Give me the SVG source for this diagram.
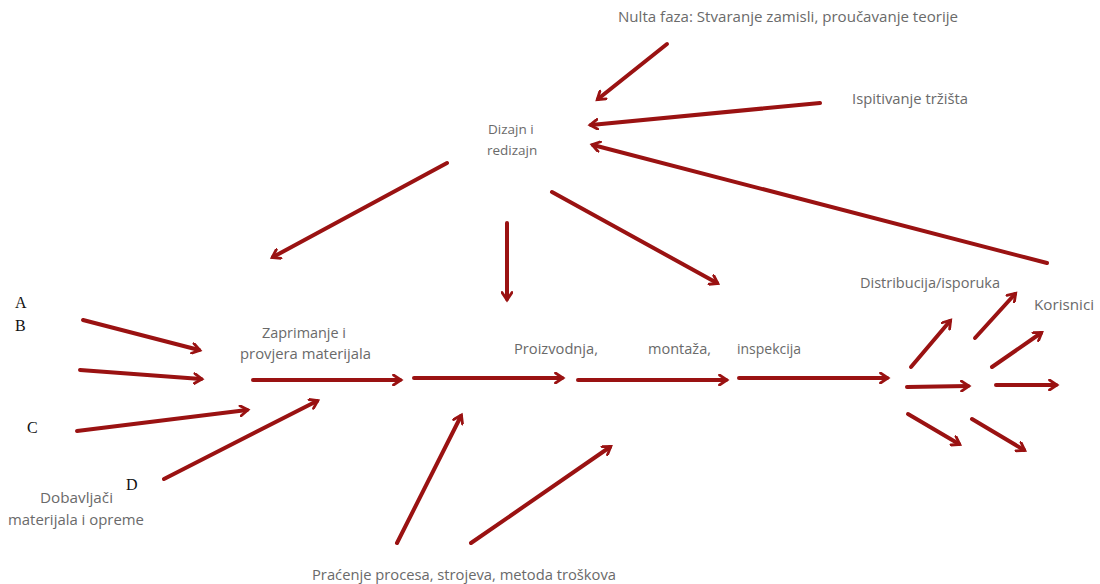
<svg xmlns="http://www.w3.org/2000/svg" width="1100" height="584" viewBox="0 0 1100 584">
<defs>
<marker id="ah" markerWidth="12" markerHeight="12" refX="8" refY="6" orient="auto" markerUnits="userSpaceOnUse" viewBox="0 0 12 12">
<path d="M1.5,1 L9,6 L1.5,11" fill="none" stroke="#9a1212" stroke-width="2.8" stroke-linecap="round" stroke-linejoin="miter"/>
</marker>
<style>
.c line{stroke:#9a1212;stroke-width:4;stroke-linecap:round;marker-end:url(#ah)}
.t{font-family:"Open Sans","Liberation Sans",sans-serif;font-size:14.5px;fill:#6a6a6a}
.s{font-size:13.5px}
.l{font-family:"Liberation Serif",serif;font-size:16px;fill:#111}
</style>
</defs>
<rect width="1100" height="584" fill="#fff"/>
<g id="nulta"><text class="t" x="618" y="22" textLength="340" lengthAdjust="spacingAndGlyphs">Nulta faza: Stvaranje zamisli, proučavanje teorije</text></g>
<g id="ispitivanje"><text class="t" x="852" y="104" textLength="116" lengthAdjust="spacingAndGlyphs">Ispitivanje tržišta</text></g>
<g id="dizajn"><text class="t s" x="488" y="134">Dizajn i</text><text class="t s" x="487" y="155">redizajn</text></g>
<g id="zaprimanje"><text class="t" x="262" y="338" textLength="84" lengthAdjust="spacingAndGlyphs">Zaprimanje i</text><text class="t" x="240" y="359" textLength="131" lengthAdjust="spacingAndGlyphs">provjera materijala</text></g>
<g id="proizvodnja"><text class="t" x="514" y="354" textLength="84" lengthAdjust="spacingAndGlyphs">Proizvodnja,</text></g>
<g id="montaza"><text class="t" x="648" y="354" textLength="63" lengthAdjust="spacingAndGlyphs">montaža,</text></g>
<g id="inspekcija"><text class="t" x="737" y="354" textLength="64" lengthAdjust="spacingAndGlyphs">inspekcija</text></g>
<g id="distribucija"><text class="t" x="860" y="288" textLength="140" lengthAdjust="spacingAndGlyphs">Distribucija/isporuka</text></g>
<g id="korisnici"><text class="t" x="1034" y="310" textLength="60" lengthAdjust="spacingAndGlyphs">Korisnici</text></g>
<g id="dobavljaci"><text class="t" x="40" y="503" textLength="73" lengthAdjust="spacingAndGlyphs">Dobavljači</text><text class="t" x="8" y="525" textLength="136" lengthAdjust="spacingAndGlyphs">materijala i opreme</text></g>
<g id="pracenje"><text class="t" x="312" y="580" textLength="304" lengthAdjust="spacingAndGlyphs">Praćenje procesa, strojeva, metoda troškova</text></g>
<g id="labels">
<text class="l" x="15" y="308">A</text>
<text class="l" x="15" y="331">B</text>
<text class="l" x="27" y="433">C</text>
<text class="l" x="126" y="490">D</text>
</g>
<g class="c" id="connectors">
<line x1="667" y1="44" x2="598" y2="99"/>
<line x1="820" y1="103" x2="591" y2="125"/>
<line x1="1047" y1="263" x2="593" y2="145"/>
<line x1="447" y1="163" x2="273" y2="257"/>
<line x1="507" y1="223" x2="507" y2="299"/>
<line x1="552" y1="192" x2="717" y2="283"/>
<line x1="83" y1="320" x2="199" y2="350"/>
<line x1="80" y1="370" x2="201" y2="379"/>
<line x1="77" y1="431" x2="247" y2="410"/>
<line x1="164" y1="479" x2="317" y2="401"/>
<line x1="253" y1="380" x2="400" y2="380"/>
<line x1="414" y1="378" x2="562" y2="378"/>
<line x1="578" y1="380" x2="726" y2="380"/>
<line x1="739" y1="378" x2="887" y2="378"/>
<line x1="397" y1="543" x2="461" y2="416"/>
<line x1="471" y1="543" x2="610" y2="447"/>
<line x1="911" y1="367" x2="950" y2="321"/>
<line x1="975" y1="338" x2="1015" y2="294"/>
<line x1="992" y1="367" x2="1041" y2="333"/>
<line x1="907" y1="387" x2="968" y2="386"/>
<line x1="996" y1="385" x2="1056" y2="385"/>
<line x1="908" y1="414" x2="959" y2="444"/>
<line x1="972" y1="419" x2="1024" y2="450"/>
</g>
</svg>
